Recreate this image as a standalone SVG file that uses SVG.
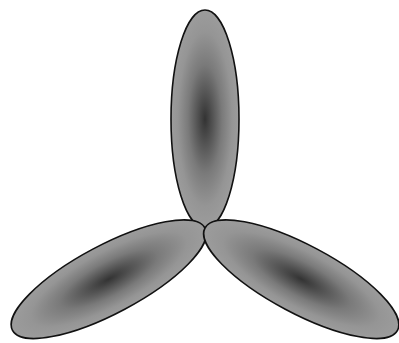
<svg xmlns="http://www.w3.org/2000/svg" width="399" height="343" viewBox="0 0 399 343">
<defs>
<radialGradient id="g" cx="0.5" cy="0.5" r="0.5">
<stop offset="0" stop-color="#333"/>
<stop offset="0.5" stop-color="#7a7a7a"/>
<stop offset="0.8" stop-color="#959595"/>
<stop offset="1" stop-color="#9c9c9c"/>
</radialGradient>
</defs>
<style>.b{fill:url(#g);stroke:#111;stroke-width:1.6}</style>
<rect width="399" height="343" fill="#fff"/>
<g id="blade-top"><ellipse class="b" cx="205" cy="119" rx="34" ry="109"/></g>
<g id="blade-left" transform="rotate(242 205 228)"><ellipse class="b" cx="205" cy="119" rx="34" ry="109"/></g>
<g id="blade-right" transform="rotate(118 205 228)"><ellipse class="b" cx="205" cy="119" rx="34" ry="109"/></g>
</svg>
